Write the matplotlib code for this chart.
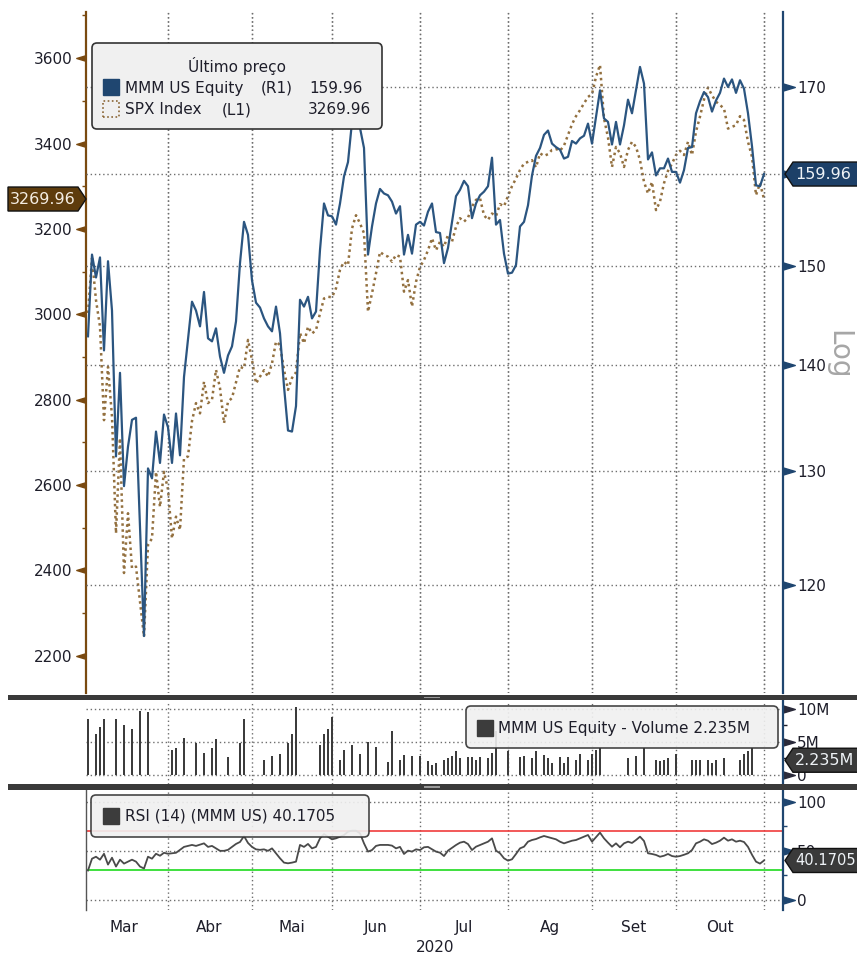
import numpy as np
import matplotlib.pyplot as plt
from matplotlib.patches import Polygon, FancyBboxPatch, Rectangle
from matplotlib.transforms import IdentityTransform
from matplotlib.ticker import FixedLocator, NullLocator

plt.rcParams['font.family'] = 'DejaVu Sans'

# trading-day index: 0 = 2 Mar 2020 ... 170 = 30 Oct 2020
month_end = [21, 42, 62, 84, 106, 127, 148, 170]
month_lbl = ['Mar', 'Abr', 'Mai', 'Jun', 'Jul', 'Ag', 'Set', 'Out']

mmm_day = [1, 2, 3, 4, 5, 6, 7, 8, 9, 10, 11, 12, 13, 15, 16, 17, 18, 19, 20, 21, 22, 23, 24, 25, 27, 28, 29,
           30, 31, 32, 33, 34, 35, 36, 37, 38, 39, 40, 41, 42, 43, 44, 45, 46, 47, 48, 49, 50, 51, 52, 53, 54,
           55, 56, 57, 58, 59, 60, 61, 62, 63, 64, 65, 66, 67, 68, 69, 70, 71, 72, 73, 74, 75, 76, 77, 78, 79,
           80, 81, 82, 83, 84, 85, 86, 87, 88, 89, 90, 91, 93, 94, 95, 96, 97, 98, 99, 100, 101, 102, 103, 104,
           105, 106, 107, 108, 109, 110, 111, 112, 113, 114, 115, 116, 117, 118, 119, 120, 121, 122, 123, 124,
           125, 126, 127, 128, 129, 130, 131, 132, 133, 134, 135, 136, 137, 138, 139, 140, 141, 142, 143, 144,
           145, 146, 147, 148, 149, 150, 151, 152, 153, 154, 155, 156, 157, 158, 159, 160, 161, 162, 163, 164,
           165, 166, 167, 168, 169, 170]
mmm_px = [142.8, 151.2, 148.8, 150.9, 141.4, 150.5, 145.4, 131.3, 139.2, 128.6, 132.2, 134.7, 134.9, 115.8,
          130.2, 129.3, 133.6, 130.7, 135.2, 134.0, 130.7, 135.3, 131.4, 138.8, 146.3, 145.4, 143.8,
          147.3, 142.6, 142.3, 143.6, 140.8, 139.2, 140.9, 141.8, 144.3, 150.3, 154.7, 153.3, 148.5, 146.2,
          145.7, 144.6, 143.8, 143.3, 145.8, 143.1, 137.9, 133.7, 133.6, 136.0, 146.5,
          145.8, 146.8, 144.6, 145.3, 151.7, 156.7, 155.4, 155.3, 154.4, 156.7, 159.7, 161.3, 165.9, 165.5,
          165.2, 162.9, 151.2, 154.2, 156.7, 158.3, 157.8, 157.6, 156.9, 155.6, 156.4,
          151.2, 153.3, 151.3, 154.4, 154.7, 154.3, 155.8, 156.7, 153.6, 153.5, 150.3, 151.9, 157.5, 158.2,
          159.2, 158.6, 155.1, 156.7, 157.6, 158.0, 158.6, 161.8, 154.4, 154.9,
          151.3, 149.2, 149.3, 150.1, 154.2, 154.7, 156.5, 159.8, 162.0, 162.9, 164.4, 164.9, 163.4, 163.0,
          162.7, 161.7, 161.9, 163.7, 163.4, 164.0,
          164.3, 165.7, 163.4, 166.5, 169.6, 166.3, 165.9, 163.3, 165.9, 163.3, 165.5, 168.5, 166.9, 169.6,
          172.4, 170.4, 161.6, 162.4, 159.8, 160.6,
          160.6, 161.7, 160.2, 160.2, 159.0, 160.4, 162.9, 163.0, 166.9, 168.3, 169.4, 168.8, 167.1, 168.4,
          169.3, 171.0, 170.0, 170.9, 169.3, 170.8,
          169.8, 166.9, 163.1, 158.7, 158.6, 159.96]

spx_day = [1, 2, 3, 4, 5, 6, 7, 8, 9, 10, 11, 12, 13, 15, 16, 17, 18, 19, 20, 21, 22, 23, 24, 25, 26, 27, 28,
           29, 30, 31, 32, 33, 34, 35, 36, 37, 38, 39, 40, 41, 42, 43, 44, 45, 46, 47, 48, 49, 50, 51, 52, 53,
           54, 55, 56, 57, 58, 59, 60, 61, 62, 63, 64, 65, 66, 67, 68, 69, 70, 71, 72, 73, 74, 75, 76, 77, 78,
           79, 80, 81, 82, 83, 84, 85, 86, 87, 88, 89, 90, 91, 92, 93, 94, 95, 96, 97, 98, 99, 100, 101, 102,
           103, 104, 105, 106, 107, 108, 109, 110, 111, 112, 113, 114, 115, 116, 117, 118, 119, 120, 121, 122,
           123, 124, 125, 126, 127, 128, 129, 130, 131, 132, 133, 134, 135, 136, 137, 138, 139, 140, 141, 142,
           143, 144, 145, 146, 147, 148, 149, 150, 151, 152, 153, 154, 155, 156, 157, 158, 159, 160, 161, 162,
           163, 164, 165, 166, 167, 168, 169, 170]
spx_px = [3003, 3131, 3033, 2971, 2752, 2877, 2760, 2487, 2710, 2394, 2534, 2405, 2409, 2245, 2460, 2475,
          2631, 2549, 2631, 2590, 2475, 2526, 2495, 2663, 2667, 2750, 2792,
          2768, 2842, 2792, 2800, 2870, 2827, 2745, 2795, 2804, 2841, 2877, 2873, 2940, 2893, 2838, 2854,
          2869, 2854, 2885, 2936, 2928, 2870, 2823, 2851, 2864,
          2956, 2932, 2971, 2955, 2963, 3002, 3037, 3041, 3040, 3061, 3104, 3123, 3115, 3201, 3232, 3213,
          3190, 3006, 3049, 3096, 3146, 3139, 3135, 3123, 3139,
          3135, 3053, 3080, 3018, 3076, 3111, 3127, 3150, 3178, 3150, 3170, 3158, 3186, 3170, 3205, 3225,
          3217, 3226, 3252, 3268, 3272, 3232, 3221, 3236,
          3230, 3258, 3253, 3277, 3300, 3318, 3338, 3353, 3357, 3361, 3344, 3377, 3371, 3375, 3385, 3387,
          3383, 3395, 3420, 3445,
          3464, 3478, 3494, 3509, 3516, 3556, 3584, 3459, 3414, 3345, 3392, 3377, 3345, 3385, 3404, 3392,
          3361, 3310, 3283, 3310,
          3244, 3264, 3307, 3336, 3353, 3373, 3383, 3373, 3404, 3373, 3428, 3463, 3503, 3531, 3513, 3498,
          3490, 3482, 3435, 3439,
          3443, 3464, 3455, 3404, 3369, 3279, 3307, 3269.96]

vol_day = [1, 3, 4, 5, 8, 10, 12, 14, 16, 22, 23, 25, 28, 30, 32, 33, 36, 39, 40, 45, 47, 49, 51, 52, 53,
           59, 60, 61, 62, 64, 65, 67, 69, 71, 73, 76, 77, 79, 80, 82, 84, 86, 87, 88, 90, 91, 92, 93, 94,
           96, 97, 98, 99, 101, 102, 103, 106, 109, 110, 112, 113, 115, 116, 117, 119, 120, 121, 123, 124,
           126, 127, 128, 129, 136, 138, 140, 143, 144, 145, 146, 148, 152, 153, 154, 156, 157, 158, 160,
           164, 165, 166, 167]
vol_mn = [8.5, 6.2, 7.3, 8.5, 8.5, 7.6, 6.9, 9.7, 9.5, 3.8, 4.1, 5.6, 4.9, 3.3, 4.1, 5.5, 2.7, 4.9, 8.5,
          2.3, 2.9, 3.2, 4.9, 6.2, 10.3, 4.6, 6.2, 6.9, 8.8, 2.3, 3.8, 4.6, 3.2, 5.0, 4.2, 1.9, 6.6, 2.3,
          3.1, 2.9, 2.9, 2.1, 1.5, 1.8, 2.3, 2.6, 2.9, 3.6, 2.6, 2.7, 2.7, 2.3, 2.8, 2.6, 3.3, 6.7, 3.6,
          2.8, 2.9, 2.6, 3.7, 3.1, 2.6, 1.8, 2.7, 1.8, 2.7, 2.3, 3.2, 2.3, 3.2, 3.8, 4.1, 2.6, 2.9, 4.1,
          2.3, 2.1, 2.2, 2.6, 3.2, 2.3, 2.3, 2.3, 2.3, 1.8, 2.3, 2.6, 2.3, 3.2, 3.6, 4.1]

rsi_day = [1, 2, 3, 4, 5, 6, 7, 8, 9, 10, 11, 12, 13, 14, 15, 16, 17, 18, 19, 20, 21, 22, 23, 24, 25, 26,
           27, 28, 30, 31, 32, 33, 34, 35, 36, 37, 38, 39, 40, 41, 42, 43, 44, 45, 46, 47, 48, 49, 50, 51,
           52, 53, 54, 55, 56, 57, 58, 59, 60, 61, 62, 63, 64, 65, 66, 67, 68, 69, 70, 71, 72, 73, 74, 76,
           77, 78, 79, 80, 81, 82, 83, 84, 85, 86, 88, 89, 90, 91, 93, 94, 95, 96, 97, 98, 99, 100, 101,
           102, 103, 104, 105, 106, 107, 108, 109, 110, 111, 112, 113, 114, 115, 116, 117, 118, 119, 120,
           121, 122, 123, 124, 125, 126, 127, 129, 130, 131, 132, 133, 134, 135, 136, 137, 138, 139, 140,
           141, 142, 143, 144, 145, 146, 147, 148, 149, 150, 151, 152, 153, 154, 155, 156, 157, 158, 159,
           160, 161, 162, 163, 164, 165, 166, 167, 168, 169, 170]
rsi_val = [30, 42, 44, 41, 47, 36, 43, 34, 41, 37, 39, 41, 39, 34, 32, 44, 42, 47, 45, 48, 47, 47.5, 48,
           51, 54, 55, 56, 55, 57.6, 54, 55, 52.5, 50, 50, 51, 54, 57, 59, 65, 58, 54, 51.5, 51, 51.5, 50,
           52.5, 47.5, 42.4, 38, 37.3, 38, 39, 56, 54, 57, 52.5, 54, 62.7, 67, 64.4, 61.7, 62.7, 64.4, 66,
           69.5, 70.5, 70.5, 67.8, 57.6, 49.2, 50.8, 55, 56, 56, 55.3, 52.5, 54, 46.8, 50.2, 49.2, 51.5,
           50.8, 53.6, 54, 49.2, 48.1, 44.7, 50.2, 55.9, 58.3, 59.3, 56.9, 50.8, 54.2, 55.9, 57.6, 59.3,
           62.7, 50.2, 47.5, 42.4, 40, 41.4, 46.8, 52.5, 54.2, 59.3, 61, 62, 63.7, 65.1, 64, 63, 61.7, 59.3,
           57.6, 59, 60.3, 61, 62.7, 64.4, 66.1, 59.3, 68.5, 62.7, 58.3, 54.2, 57.6, 53.6, 57.6, 59.3, 58,
           61, 64.4, 60, 47.5, 46.8, 45.8, 44, 45, 46.8, 44.7, 44, 44.7, 46, 47.5, 50.8, 57.6, 59.3, 61.7,
           60.3, 56.9, 58.3, 60.3, 63.4, 60.3, 61.7, 59.3, 60.3, 59, 54, 46, 39, 37, 40.17]

spx_ticks = [2200, 2400, 2600, 2800, 3000, 3200, 3400, 3600]
spx_minor = [2300, 2500, 2700, 2900, 3100, 3300, 3500, 3700]
mmm_ticks = [120, 130, 140, 150, 160, 170]

BROWN = '#7a4a10'
BLUE = '#1f4670'
TXT = '#1e1e2a'
GRID = '#6e6e6e'
W, H = 857, 955

fig = plt.figure(figsize=(W / 100, H / 100), dpi=100)


def axes_px(x0, y0, x1, y1):
    return fig.add_axes([x0 / W, 1 - y1 / H, (x1 - x0) / W, (y1 - y0) / H])


ax = axes_px(86, 12, 783, 693)
ax2 = ax.twinx()
axv = axes_px(86, 701, 783, 784)
axr = axes_px(86, 789, 783, 910)

LTRI = [(0, -0.3), (-1, 0), (0, 0.3)]
RTRI = [(0, -0.3), (1, 0), (0, 0.3)]

for a in (ax, ax2, axv, axr):
    a.set_xlim(0.5, 174.75)
    a.set_xticks([])
    for s in a.spines.values():
        s.set_visible(False)
    for d in month_end:
        a.axvline(d, color=GRID, lw=1.0, ls=(0, (1, 2)), zorder=0)

# ---- main panel
ax.set_ylim(2113, 3708)
ax2.set_yscale('log')
ax2.set_ylim(111.28, 179.15)
for v in mmm_ticks:
    ax2.axhline(v, color=GRID, lw=1.0, ls=(0, (1, 2)), zorder=0)

ax.plot(spx_day, spx_px, color='#93703f', lw=1.8, ls=(0, (1, 1.4)), zorder=3)
ax2.plot(mmm_day, mmm_px, color='#2b5580', lw=1.6, zorder=4)

ax.spines['left'].set_visible(True)
ax.spines['left'].set_color(BROWN)
ax.spines['left'].set_linewidth(1.6)
ax.set_yticks(spx_ticks)
ax.set_yticks(spx_minor, minor=True)
ax.tick_params(axis='y', which='major', length=0, pad=10, labelsize=11, labelcolor=TXT)
ax.tick_params(axis='y', which='minor', length=3, width=1, color=BROWN)
ax.plot(np.zeros(len(spx_ticks)), spx_ticks, transform=ax.get_yaxis_transform(), ls='none',
        marker=LTRI, ms=14, color=BROWN, clip_on=False)

ax2.spines['right'].set_visible(True)
ax2.spines['right'].set_color(BLUE)
ax2.spines['right'].set_linewidth(1.6)
ax2.yaxis.set_major_locator(FixedLocator(mmm_ticks))
ax2.yaxis.set_minor_locator(NullLocator())
ax2.set_yticklabels(['120', '130', '140', '150', '', '170'])
ax2.tick_params(axis='y', which='major', length=0, pad=10, labelsize=11, labelcolor=TXT)
ax2.plot(np.ones(len(mmm_ticks)), mmm_ticks, transform=ax2.get_yaxis_transform(), ls='none',
         marker=RTRI, ms=17, color=BLUE, clip_on=False)

# ---- volume panel
axv.set_ylim(-1.36, 11.2)
for v in (0, 5, 10):
    axv.axhline(v, color=GRID, lw=1.0, ls=(0, (1, 2)), zorder=0)
axv.bar(vol_day, vol_mn, width=0.55, color='#3c3c3c', zorder=2)
axv.spines['right'].set_visible(True)
axv.spines['right'].set_color(BLUE)
axv.spines['right'].set_linewidth(1.6)
axv.yaxis.tick_right()
axv.set_yticks([0, 5, 10])
axv.set_yticklabels(['0', '5M', '10M'])
axv.set_yticks([2.5, 7.5], minor=True)
axv.tick_params(axis='y', which='major', length=0, pad=10, labelsize=11, labelcolor=TXT)
axv.tick_params(axis='y', which='minor', length=3, width=1, color=TXT)
axv.plot(np.ones(3), [0, 5, 10], transform=axv.get_yaxis_transform(), ls='none',
         marker=RTRI, ms=17, color='#2a2a3a', clip_on=False)

# ---- RSI panel
axr.set_ylim(-10.2, 112.9)
for v in (0, 50, 100):
    axr.axhline(v, color=GRID, lw=1.0, ls=(0, (1, 2)), zorder=0)
axr.axhline(70, color='#f03c3c', lw=1.2, zorder=1)
axr.axhline(30, color='#3ee03e', lw=1.4, zorder=1)
axr.plot(rsi_day, rsi_val, color='#4a4a4a', lw=1.3, zorder=3)
axr.spines['right'].set_visible(True)
axr.spines['right'].set_color(BLUE)
axr.spines['right'].set_linewidth(1.6)
axr.spines['left'].set_visible(True)
axr.spines['left'].set_color('#555555')
axr.spines['left'].set_linewidth(1.0)
axr.yaxis.tick_right()
axr.set_yticks([0, 50, 100])
axr.set_yticks([25, 75], minor=True)
axr.tick_params(axis='y', which='major', length=0, pad=10, labelsize=11, labelcolor=TXT)
axr.tick_params(axis='y', which='minor', length=3, width=1, color=BLUE)
axr.plot(np.ones(3), [0, 50, 100], transform=axr.get_yaxis_transform(), ls='none',
         marker=RTRI, ms=17, color=BLUE, clip_on=False)

starts = [0] + [e + 1 for e in month_end[:-1]]
centers = [(s + e) / 2 - 0.6 for s, e in zip(starts, month_end)]
axr.set_xticks(centers)
axr.set_xticklabels(month_lbl)
axr.tick_params(axis='x', length=0, pad=7, labelsize=11, labelcolor=TXT)
fig.text(435 / W, 1 - 947 / H, '2020', ha='center', va='center', fontsize=11, color=TXT)

# ---- overlay helpers in pixel coords (y from top)
ID = IdentityTransform()


def P(x, y):
    return (x, H - y)


def add_poly(pts, fc, ec, z=6):
    fig.add_artist(Polygon([P(x, y) for x, y in pts], closed=True, transform=ID,
                           facecolor=fc, edgecolor=ec, lw=1.0, zorder=z))


def ftext(x, y, s, **kw):
    kw.setdefault('fontsize', 11)
    kw.setdefault('color', TXT)
    kw.setdefault('va', 'center')
    fig.text(x / W, 1 - y / H, s, zorder=8, **kw)


def ypix(a, val):
    return H - a.transData.transform((1, val))[1]


def right_tag(a, val, s, fc, size=11.5):
    y = ypix(a, val)
    add_poly([(785, y), (793, y - 12), (860, y - 12), (860, y + 12), (793, y + 12)], fc, '#111111')
    ftext(795, y, s, color='#eef2f6', fontsize=size, ha='left')


def box(x0, y0, x1, y1, alpha=1.0):
    fig.add_artist(FancyBboxPatch(P(x0, y1), x1 - x0, y1 - y0, transform=ID,
                                  boxstyle='round,pad=0,rounding_size=5', facecolor='#f0f0f0',
                                  edgecolor='#333333', lw=1.2, alpha=alpha, zorder=6))


# last-value tags
yl = ypix(ax, spx_px[-1])
add_poly([(86, yl), (78, yl - 12), (8, yl - 12), (8, yl + 12), (78, yl + 12)], '#5e3c0c', '#111111')
ftext(43, yl, '3269.96', color='#f4ede2', fontsize=11.5, ha='center')
right_tag(ax2, mmm_px[-1], '159.96', '#1d4068')
right_tag(axv, 2.235, '2.235M', '#3a3a3a')
right_tag(axr, rsi_val[-1], '40.1705', '#3a3a3a', size=10.5)

ftext(838, 355, 'Log', rotation=270, fontsize=20, color='#a6a6a6', ha='center')

# legends
box(92, 43, 382, 129)
ftext(237, 66, 'Último preço', ha='center')
fig.add_artist(Rectangle(P(103, 95), 16, 16, transform=ID, facecolor=BLUE, edgecolor=BLUE, zorder=7))
fig.add_artist(Rectangle(P(103, 117), 16, 16, transform=ID, facecolor='none', edgecolor='#8a6535',
                         ls=(0, (1, 1.5)), lw=1.2, zorder=7))
ftext(125, 88, 'MMM US Equity')
ftext(261, 88, '(R1)')
ftext(309, 88, '159.96')
ftext(125, 110, 'SPX Index')
ftext(222, 110, '(L1)')
ftext(371, 110, '3269.96', ha='right')

box(466, 706, 778, 748, alpha=0.9)
fig.add_artist(Rectangle(P(477, 736), 16, 16, transform=ID, facecolor='#3c3c3c', edgecolor='#3c3c3c', zorder=7))
ftext(498, 728, 'MMM US Equity - Volume 2.235M')

box(91, 795, 369, 837, alpha=0.9)
fig.add_artist(Rectangle(P(103, 824), 16, 16, transform=ID, facecolor='#3c3c3c', edgecolor='#3c3c3c', zorder=7))
ftext(125, 816, 'RSI (14) (MMM US) 40.1705')

# panel separators
for y0 in (694.5, 784):
    fig.add_artist(Rectangle(P(8, y0 + 5.5), 849, 5.5, transform=ID, facecolor='#3a3a3a',
                             edgecolor='none', zorder=5))
    fig.add_artist(Rectangle(P(424, y0 + 3.5), 16, 1.2, transform=ID, facecolor='#9a9a9a',
                             edgecolor='none', zorder=5))

fig.savefig('out.png', dpi=100, facecolor='white')
